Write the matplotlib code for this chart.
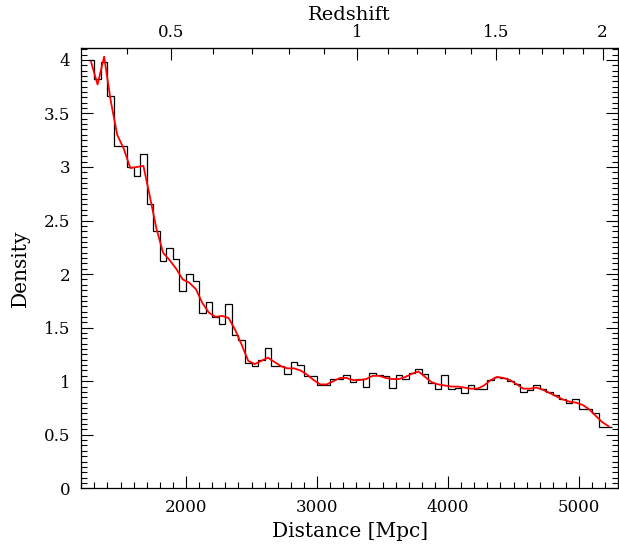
import numpy as np
import matplotlib.pyplot as plt
from matplotlib.ticker import MultipleLocator, FormatStrFormatter, FixedLocator

# histogram: 50 Mpc bins starting at 1250 Mpc
bin_start = 1250
bin_width = 50
hist_values = [
    4.00, 3.82, 3.98, 3.66, 3.20, 3.20, 3.00, 2.92, 3.12, 2.65,
    2.40, 2.12, 2.24, 2.14, 1.84, 2.00, 1.94, 1.64, 1.74, 1.60,
    1.53, 1.72, 1.43, 1.38, 1.17, 1.14, 1.20, 1.31, 1.14, 1.14,
    1.07, 1.18, 1.15, 1.05, 1.05, 0.96, 0.96, 1.02, 1.02, 1.06,
    0.99, 1.02, 0.95, 1.08, 1.06, 1.05, 0.94, 1.06, 1.02, 1.08,
    1.11, 1.07, 0.98, 0.93, 1.06, 0.93, 0.94, 0.89, 0.96, 0.93,
    0.93, 1.01, 1.04, 1.03, 1.00, 0.97, 0.90, 0.92, 0.96, 0.93,
    0.90, 0.87, 0.83, 0.80, 0.83, 0.74, 0.74, 0.70, 0.57, 0.57,
]
# smoothed density at bin centres
smooth_values = [
    3.98, 3.77, 4.03, 3.62, 3.30, 3.17, 2.99, 3.00, 3.01, 2.72,
    2.42, 2.20, 2.13, 2.05, 1.95, 1.92, 1.86, 1.73, 1.64, 1.60,
    1.61, 1.59, 1.48, 1.34, 1.19, 1.16, 1.19, 1.22, 1.18, 1.14,
    1.12, 1.12, 1.10, 1.06, 1.01, 0.97, 0.97, 1.00, 1.03, 1.03,
    1.01, 1.01, 1.02, 1.05, 1.05, 1.03, 1.02, 1.02, 1.04, 1.07,
    1.09, 1.04, 0.99, 0.97, 0.96, 0.95, 0.95, 0.94, 0.93, 0.93,
    0.96, 1.01, 1.04, 1.03, 1.01, 0.97, 0.93, 0.93, 0.94, 0.92,
    0.89, 0.86, 0.83, 0.81, 0.80, 0.78, 0.74, 0.68, 0.62, 0.58,
]
z_major = [0.5, 1, 1.5, 2]

edges = bin_start + bin_width * np.arange(len(hist_values) + 1)
centres = edges[:-1] + bin_width / 2

# flat LCDM comoving distance (H0=70, Om=0.3) for the redshift axis
zg = np.linspace(0, 5, 5001)
ez = 1.0 / np.sqrt(0.3 * (1 + zg) ** 3 + 0.7)
dg = 299792.458 / 70 * np.concatenate([[0], np.cumsum((ez[1:] + ez[:-1]) / 2 * np.diff(zg))])


def d2z(d):
    return np.interp(d, dg, zg)


def z2d(z):
    return np.interp(z, zg, dg)


plt.rcParams['font.family'] = 'DejaVu Serif'
plt.rcParams['font.size'] = 12

fig = plt.figure(figsize=(6.19, 5.52), dpi=100)
ax = fig.add_axes([81.2 / 619, 1 - 488.3 / 552, 537.1 / 619, 440 / 552])

ax.stairs(hist_values, edges, baseline=None, color='black', linewidth=0.9)
ax.plot(centres, smooth_values, color='red', linewidth=1.3)

ax.set_xlim(1200, 5300)
ax.set_ylim(0, 4.108)
ax.xaxis.set_major_locator(MultipleLocator(1000))
ax.xaxis.set_minor_locator(MultipleLocator(100))
ax.yaxis.set_major_locator(MultipleLocator(0.5))
ax.yaxis.set_minor_locator(MultipleLocator(0.05))
ax.yaxis.set_major_formatter(FormatStrFormatter('%g'))
ax.tick_params(which='both', direction='in', top=False, right=True, width=0.8, pad=8)
ax.tick_params(which='major', length=8.6)
ax.tick_params(which='minor', length=4.3)
ax.set_xlabel('Distance [Mpc]', fontsize=14.5, labelpad=4)
ax.set_ylabel('Density', fontsize=14.5, labelpad=10)
for s in ax.spines.values():
    s.set_linewidth(0.9)

sec = ax.secondary_xaxis('top', functions=(d2z, z2d))
sec.xaxis.set_major_locator(FixedLocator(z_major))
sec.xaxis.set_minor_locator(FixedLocator(np.arange(0.4, 2.01, 0.1)))
sec.xaxis.set_major_formatter(FormatStrFormatter('%g'))
sec.tick_params(which='both', direction='in', width=0.8, pad=5)
sec.tick_params(which='major', length=8.6)
sec.tick_params(which='minor', length=4.3)
sec.set_xlabel('Redshift', fontsize=14, labelpad=3)

fig.savefig('out.png', dpi=100)
